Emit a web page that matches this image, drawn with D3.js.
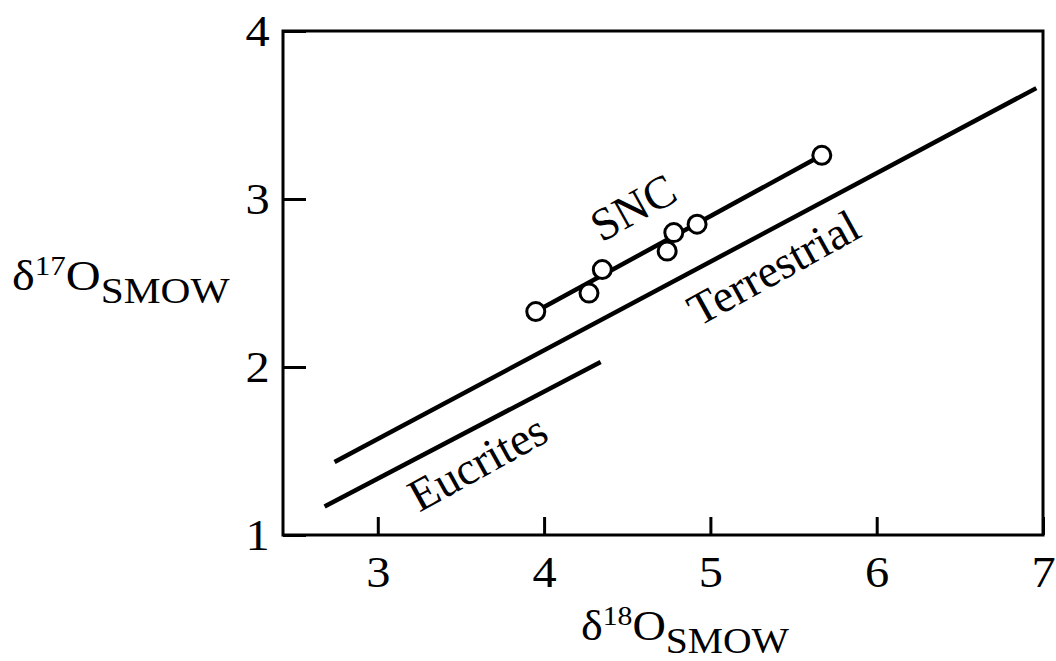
<!DOCTYPE html>
<html>
<head>
<meta charset="utf-8">
<script src="https://cdn.jsdelivr.net/npm/d3@7"></script>
<style>
  body { margin: 0; background: #fff; }
  svg { display: block; font-family: "Liberation Serif", "DejaVu Serif", serif; }
</style>
</head>
<body>
<svg id="chart" width="1056" height="661"></svg>
<script>
// data
var xTicks = [3, 4, 5, 6, 7];
var yTicks = [1, 2, 3, 4];
var sncPoints = [
  [3.95, 2.33], [4.27, 2.44], [4.35, 2.58], [4.74, 2.69],
  [4.78, 2.80], [4.92, 2.85], [5.67, 3.26]
];
var sncLine = [[3.95, 2.33], [5.67, 3.26]];
var terrestrialLine = [[2.74, 1.435], [6.96, 3.66]];
var eucritesLine = [[2.68, 1.17], [4.34, 2.03]];
var labels = [
  { text: "SNC", x: 4.535, y: 2.95 },
  { text: "Terrestrial", x: 5.38, y: 2.59 },
  { text: "Eucrites", x: 3.60, y: 1.43 }
];

var svg = d3.select("#chart");
var x = d3.scaleLinear().domain([2.43, 7]).range([283, 1043]);
var y = d3.scaleLinear().domain([1, 4]).range([535, 31]);

// frame
svg.append("rect")
  .attr("x", x(2.43)).attr("y", y(4))
  .attr("width", x(7) - x(2.43)).attr("height", y(1) - y(4))
  .attr("fill", "none").attr("stroke", "#000").attr("stroke-width", 3);

var xAxis = svg.append("g")
  .attr("transform", "translate(0," + y(1) + ")")
  .call(d3.axisBottom(x).tickValues(xTicks).tickFormat(d3.format("d"))
    .tickSizeInner(-18).tickSizeOuter(0).tickPadding(21));
var yAxis = svg.append("g")
  .attr("transform", "translate(" + x(2.43) + ",0)")
  .call(d3.axisLeft(y).tickValues(yTicks).tickFormat(d3.format("d"))
    .tickSizeInner(-23).tickSizeOuter(0).tickPadding(12));

[xAxis, yAxis].forEach(function(a) {
  a.select(".domain").remove();
  a.selectAll(".tick line").attr("stroke", "#000").attr("stroke-width", 3);
  a.selectAll(".tick text").attr("fill", "#000")
    .attr("transform", "scale(1.1,1)")
    .style("font-family", "Liberation Serif").style("font-size", "44px");
});

var line = d3.line().x(function(d) { return x(d[0]); }).y(function(d) { return y(d[1]); });
[terrestrialLine, eucritesLine, sncLine].forEach(function(l) {
  svg.append("path").attr("d", line(l))
    .attr("fill", "none").attr("stroke", "#000").attr("stroke-width", 4.5);
});

svg.selectAll("circle.snc").data(sncPoints).enter().append("circle")
  .attr("class", "snc")
  .attr("cx", function(d) { return x(d[0]); })
  .attr("cy", function(d) { return y(d[1]); })
  .attr("r", 9)
  .attr("fill", "#fff").attr("stroke", "#000").attr("stroke-width", 3);

labels.forEach(function(l) {
  svg.append("text")
    .attr("transform", "translate(" + x(l.x) + "," + y(l.y) + ") rotate(-29)")
    .attr("text-anchor", "middle").attr("dominant-baseline", "central")
    .style("font-size", "46px").text(l.text);
});

// axis titles
function title(px, py, sup, sx) {
  var t = svg.append("text")
    .attr("transform", "translate(" + px + "," + py + ") scale(" + sx + ",1)")
    .style("font-size", "42px");
  t.append("tspan").text("δ");
  t.append("tspan").attr("dy", -15).style("font-size", "27px").text(sup);
  t.append("tspan").attr("dy", 15).text("O");
  t.append("tspan").attr("dy", 13).style("font-size", "36px").text("SMOW");
}
title(581, 640, "18", 1.1);
title(12, 290, "17", 1.15);
</script>
</body>
</html>
